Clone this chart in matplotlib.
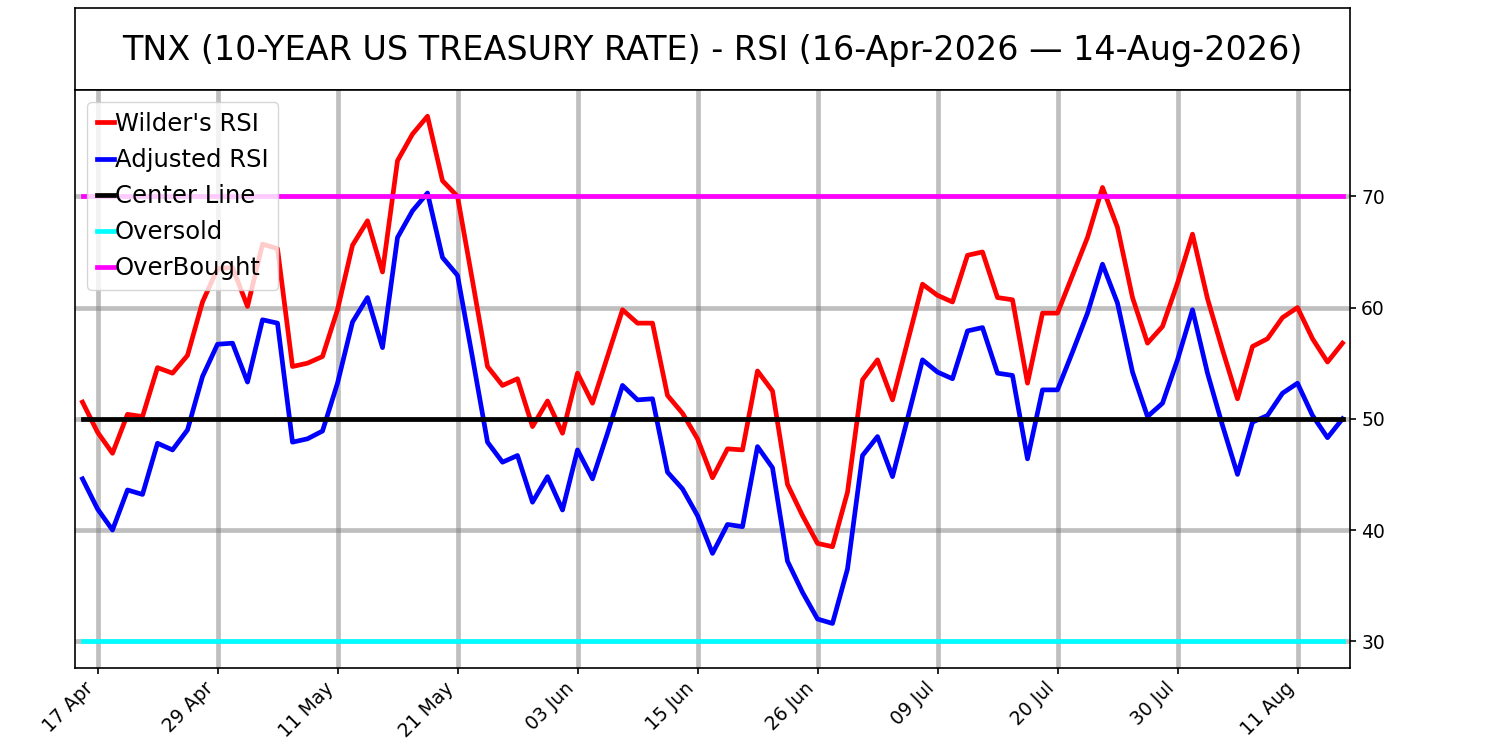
import matplotlib
matplotlib.use("Agg")
import matplotlib.pyplot as plt
import numpy as np

title = "TNX (10-YEAR US TREASURY RATE) - RSI (16-Apr-2026 \u2014 14-Aug-2026)"

# RSI values, one per trading day (16 Apr .. 14 Aug)
wilders_rsi = [
    51.5, 48.8, 46.9, 50.4, 50.2, 54.6, 54.1, 55.7, 60.5, 63.5,
    63.6, 60.1, 65.7, 65.3, 54.7, 55.0, 55.6, 59.8, 65.6, 67.8,
    63.2, 73.2, 75.6, 77.2, 71.4, 70.0, 62.4, 54.7, 53.0, 53.6,
    49.3, 51.6, 48.7, 54.1, 51.4, 55.6, 59.8, 58.6, 58.6, 52.1,
    50.5, 48.2, 44.7, 47.3, 47.2, 54.3, 52.5, 44.1, 41.3, 38.8,
    38.5, 43.4, 53.5, 55.3, 51.7, 56.9, 62.1, 61.1, 60.5, 64.7,
    65.0, 60.9, 60.7, 53.2, 59.5, 59.5, 62.9, 66.3, 70.8, 67.2,
    60.9, 56.8, 58.3, 62.2, 66.6, 60.8, 56.2, 51.8, 56.5, 57.2,
    59.1, 60.0, 57.2, 55.1, 56.8,
]
adjusted_rsi = [
    44.6, 41.9, 40.0, 43.6, 43.2, 47.8, 47.2, 49.0, 53.8, 56.7,
    56.8, 53.3, 58.9, 58.6, 47.9, 48.2, 48.9, 53.2, 58.7, 60.9,
    56.4, 66.3, 68.7, 70.3, 64.5, 62.9, 55.5, 47.9, 46.1, 46.7,
    42.5, 44.8, 41.8, 47.2, 44.6, 48.7, 53.0, 51.7, 51.8, 45.2,
    43.7, 41.3, 37.9, 40.5, 40.3, 47.5, 45.6, 37.2, 34.4, 32.0,
    31.6, 36.5, 46.7, 48.4, 44.8, 50.0, 55.3, 54.2, 53.6, 57.9,
    58.2, 54.1, 53.9, 46.4, 52.6, 52.6, 56.0, 59.5, 63.9, 60.4,
    54.2, 50.2, 51.4, 55.3, 59.8, 54.1, 49.4, 45.0, 49.7, 50.3,
    52.3, 53.2, 50.3, 48.3, 50.0,
]
center_level = 50
oversold_level = 30
overbought_level = 70

tick_labels = ["17 Apr", "29 Apr", "11 May", "21 May", "03 Jun", "15 Jun",
               "26 Jun", "09 Jul", "20 Jul", "30 Jul", "11 Aug"]

n = len(wilders_rsi)
x = np.arange(n)

fig = plt.figure(figsize=(15, 7.5), dpi=100)
gs = fig.add_gridspec(2, 1, height_ratios=[1, 7], hspace=0,
                      left=0.05, right=0.9, top=0.99, bottom=0.11)
ax_title = fig.add_subplot(gs[0])
ax = fig.add_subplot(gs[1])

# title box
ax_title.set_xticks([])
ax_title.set_yticks([])
ax_title.text(0.5, 0.48, title, ha="center", va="center", fontsize=24,
              transform=ax_title.transAxes)

lw = 3.4
ax.plot(x, wilders_rsi, color="red", lw=lw, label="Wilder's RSI")
ax.plot(x, adjusted_rsi, color="blue", lw=lw, label="Adjusted RSI")
ax.plot(x, np.full(n, center_level), color="black", lw=lw, label="Center Line")
ax.plot(x, np.full(n, oversold_level), color="cyan", lw=lw, label="Oversold")
ax.plot(x, np.full(n, overbought_level), color="magenta", lw=lw, label="OverBought")

ax.set_xlim(-0.5, n - 0.5)
ax.set_xticks(np.arange(1, n, 8))
ax.set_xticklabels(tick_labels, rotation=45, ha="right")
ax.set_yticks([30, 40, 50, 60, 70])
ax.yaxis.tick_right()
ax.tick_params(labelsize=13.5, length=4.5, width=1.2)
ax.grid(True, color="gray", alpha=0.5, lw=lw)
for a in (ax, ax_title):
    for s in a.spines.values():
        s.set_linewidth(1.2)

ax.legend(loc="upper left", fontsize=17.5, handlelength=0.7, handletextpad=0.05)

fig.savefig("out.png", dpi=100)
